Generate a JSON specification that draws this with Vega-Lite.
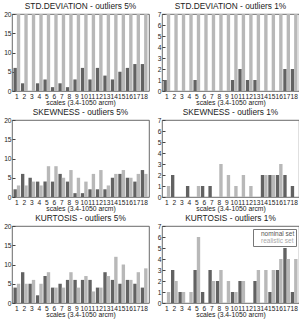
{
"$schema": "https://vega.github.io/schema/vega-lite/v6.json",
"padding": {"left": 3, "top": 1, "right": 0, "bottom": 0},
"background": "white",
"config": {
  "font": "Liberation Sans",
  "view": {"stroke": "#444444", "strokeWidth": 0.8},
  "title": {"fontSize": 8.3, "fontWeight": "normal", "color": "#222222", "offset": 1, "anchor": "middle"},
  "axis": {"labelFontSize": 6.6, "labelColor": "#222222", "titleFontSize": 6.8, "titleFontWeight": "normal", "titleColor": "#222222", "grid": false, "domain": false, "tickColor": "#444444"},
  "bar": {"clip": true}
},
"datasets": {"d": [
{"stat":"SD","pct":5,"scale":1,"set":"nominal set","value":6},{"stat":"SD","pct":5,"scale":2,"set":"nominal set","value":2},{"stat":"SD","pct":5,"scale":3,"set":"nominal set","value":0},{"stat":"SD","pct":5,"scale":4,"set":"nominal set","value":2},{"stat":"SD","pct":5,"scale":5,"set":"nominal set","value":3},{"stat":"SD","pct":5,"scale":6,"set":"nominal set","value":1},{"stat":"SD","pct":5,"scale":7,"set":"nominal set","value":2},{"stat":"SD","pct":5,"scale":8,"set":"nominal set","value":1},{"stat":"SD","pct":5,"scale":9,"set":"nominal set","value":3},{"stat":"SD","pct":5,"scale":10,"set":"nominal set","value":6},{"stat":"SD","pct":5,"scale":11,"set":"nominal set","value":3},{"stat":"SD","pct":5,"scale":12,"set":"nominal set","value":6},{"stat":"SD","pct":5,"scale":13,"set":"nominal set","value":4},{"stat":"SD","pct":5,"scale":14,"set":"nominal set","value":3},{"stat":"SD","pct":5,"scale":15,"set":"nominal set","value":5},{"stat":"SD","pct":5,"scale":16,"set":"nominal set","value":6},{"stat":"SD","pct":5,"scale":17,"set":"nominal set","value":7},{"stat":"SD","pct":5,"scale":18,"set":"nominal set","value":7},
{"stat":"SD","pct":5,"scale":1,"set":"realistic set","value":25},{"stat":"SD","pct":5,"scale":2,"set":"realistic set","value":25},{"stat":"SD","pct":5,"scale":3,"set":"realistic set","value":25},{"stat":"SD","pct":5,"scale":4,"set":"realistic set","value":25},{"stat":"SD","pct":5,"scale":5,"set":"realistic set","value":25},{"stat":"SD","pct":5,"scale":6,"set":"realistic set","value":25},{"stat":"SD","pct":5,"scale":7,"set":"realistic set","value":25},{"stat":"SD","pct":5,"scale":8,"set":"realistic set","value":25},{"stat":"SD","pct":5,"scale":9,"set":"realistic set","value":25},{"stat":"SD","pct":5,"scale":10,"set":"realistic set","value":25},{"stat":"SD","pct":5,"scale":11,"set":"realistic set","value":25},{"stat":"SD","pct":5,"scale":12,"set":"realistic set","value":25},{"stat":"SD","pct":5,"scale":13,"set":"realistic set","value":25},{"stat":"SD","pct":5,"scale":14,"set":"realistic set","value":25},{"stat":"SD","pct":5,"scale":15,"set":"realistic set","value":25},{"stat":"SD","pct":5,"scale":16,"set":"realistic set","value":25},{"stat":"SD","pct":5,"scale":17,"set":"realistic set","value":25},{"stat":"SD","pct":5,"scale":18,"set":"realistic set","value":25},
{"stat":"SD","pct":1,"scale":1,"set":"nominal set","value":1},{"stat":"SD","pct":1,"scale":2,"set":"nominal set","value":0},{"stat":"SD","pct":1,"scale":3,"set":"nominal set","value":0},{"stat":"SD","pct":1,"scale":4,"set":"nominal set","value":0},{"stat":"SD","pct":1,"scale":5,"set":"nominal set","value":1},{"stat":"SD","pct":1,"scale":6,"set":"nominal set","value":0},{"stat":"SD","pct":1,"scale":7,"set":"nominal set","value":0},{"stat":"SD","pct":1,"scale":8,"set":"nominal set","value":0},{"stat":"SD","pct":1,"scale":9,"set":"nominal set","value":0},{"stat":"SD","pct":1,"scale":10,"set":"nominal set","value":1},{"stat":"SD","pct":1,"scale":11,"set":"nominal set","value":2},{"stat":"SD","pct":1,"scale":12,"set":"nominal set","value":1},{"stat":"SD","pct":1,"scale":13,"set":"nominal set","value":1},{"stat":"SD","pct":1,"scale":14,"set":"nominal set","value":0},{"stat":"SD","pct":1,"scale":15,"set":"nominal set","value":0},{"stat":"SD","pct":1,"scale":16,"set":"nominal set","value":0},{"stat":"SD","pct":1,"scale":17,"set":"nominal set","value":2},{"stat":"SD","pct":1,"scale":18,"set":"nominal set","value":2},
{"stat":"SD","pct":1,"scale":1,"set":"realistic set","value":9},{"stat":"SD","pct":1,"scale":2,"set":"realistic set","value":9},{"stat":"SD","pct":1,"scale":3,"set":"realistic set","value":9},{"stat":"SD","pct":1,"scale":4,"set":"realistic set","value":9},{"stat":"SD","pct":1,"scale":5,"set":"realistic set","value":9},{"stat":"SD","pct":1,"scale":6,"set":"realistic set","value":9},{"stat":"SD","pct":1,"scale":7,"set":"realistic set","value":9},{"stat":"SD","pct":1,"scale":8,"set":"realistic set","value":9},{"stat":"SD","pct":1,"scale":9,"set":"realistic set","value":9},{"stat":"SD","pct":1,"scale":10,"set":"realistic set","value":9},{"stat":"SD","pct":1,"scale":11,"set":"realistic set","value":9},{"stat":"SD","pct":1,"scale":12,"set":"realistic set","value":9},{"stat":"SD","pct":1,"scale":13,"set":"realistic set","value":9},{"stat":"SD","pct":1,"scale":14,"set":"realistic set","value":9},{"stat":"SD","pct":1,"scale":15,"set":"realistic set","value":9},{"stat":"SD","pct":1,"scale":16,"set":"realistic set","value":9},{"stat":"SD","pct":1,"scale":17,"set":"realistic set","value":9},{"stat":"SD","pct":1,"scale":18,"set":"realistic set","value":9},
{"stat":"SK","pct":5,"scale":1,"set":"nominal set","value":2},{"stat":"SK","pct":5,"scale":2,"set":"nominal set","value":6},{"stat":"SK","pct":5,"scale":3,"set":"nominal set","value":5},{"stat":"SK","pct":5,"scale":4,"set":"nominal set","value":4},{"stat":"SK","pct":5,"scale":5,"set":"nominal set","value":4},{"stat":"SK","pct":5,"scale":6,"set":"nominal set","value":4},{"stat":"SK","pct":5,"scale":7,"set":"nominal set","value":6},{"stat":"SK","pct":5,"scale":8,"set":"nominal set","value":4},{"stat":"SK","pct":5,"scale":9,"set":"nominal set","value":1},{"stat":"SK","pct":5,"scale":10,"set":"nominal set","value":1},{"stat":"SK","pct":5,"scale":11,"set":"nominal set","value":2},{"stat":"SK","pct":5,"scale":12,"set":"nominal set","value":2},{"stat":"SK","pct":5,"scale":13,"set":"nominal set","value":2},{"stat":"SK","pct":5,"scale":14,"set":"nominal set","value":5},{"stat":"SK","pct":5,"scale":15,"set":"nominal set","value":6},{"stat":"SK","pct":5,"scale":16,"set":"nominal set","value":5},{"stat":"SK","pct":5,"scale":17,"set":"nominal set","value":4},{"stat":"SK","pct":5,"scale":18,"set":"nominal set","value":7},
{"stat":"SK","pct":5,"scale":1,"set":"realistic set","value":3},{"stat":"SK","pct":5,"scale":2,"set":"realistic set","value":3},{"stat":"SK","pct":5,"scale":3,"set":"realistic set","value":4},{"stat":"SK","pct":5,"scale":4,"set":"realistic set","value":3},{"stat":"SK","pct":5,"scale":5,"set":"realistic set","value":8},{"stat":"SK","pct":5,"scale":6,"set":"realistic set","value":8},{"stat":"SK","pct":5,"scale":7,"set":"realistic set","value":5},{"stat":"SK","pct":5,"scale":8,"set":"realistic set","value":7},{"stat":"SK","pct":5,"scale":9,"set":"realistic set","value":5},{"stat":"SK","pct":5,"scale":10,"set":"realistic set","value":4},{"stat":"SK","pct":5,"scale":11,"set":"realistic set","value":6},{"stat":"SK","pct":5,"scale":12,"set":"realistic set","value":7},{"stat":"SK","pct":5,"scale":13,"set":"realistic set","value":3},{"stat":"SK","pct":5,"scale":14,"set":"realistic set","value":6},{"stat":"SK","pct":5,"scale":15,"set":"realistic set","value":7},{"stat":"SK","pct":5,"scale":16,"set":"realistic set","value":5},{"stat":"SK","pct":5,"scale":17,"set":"realistic set","value":6},{"stat":"SK","pct":5,"scale":18,"set":"realistic set","value":6},
{"stat":"SK","pct":1,"scale":1,"set":"nominal set","value":0},{"stat":"SK","pct":1,"scale":2,"set":"nominal set","value":2},{"stat":"SK","pct":1,"scale":3,"set":"nominal set","value":0},{"stat":"SK","pct":1,"scale":4,"set":"nominal set","value":1},{"stat":"SK","pct":1,"scale":5,"set":"nominal set","value":0},{"stat":"SK","pct":1,"scale":6,"set":"nominal set","value":1},{"stat":"SK","pct":1,"scale":7,"set":"nominal set","value":1},{"stat":"SK","pct":1,"scale":8,"set":"nominal set","value":0},{"stat":"SK","pct":1,"scale":9,"set":"nominal set","value":0},{"stat":"SK","pct":1,"scale":10,"set":"nominal set","value":0},{"stat":"SK","pct":1,"scale":11,"set":"nominal set","value":0},{"stat":"SK","pct":1,"scale":12,"set":"nominal set","value":0},{"stat":"SK","pct":1,"scale":13,"set":"nominal set","value":0},{"stat":"SK","pct":1,"scale":14,"set":"nominal set","value":2},{"stat":"SK","pct":1,"scale":15,"set":"nominal set","value":2},{"stat":"SK","pct":1,"scale":16,"set":"nominal set","value":2},{"stat":"SK","pct":1,"scale":17,"set":"nominal set","value":2},{"stat":"SK","pct":1,"scale":18,"set":"nominal set","value":1},
{"stat":"SK","pct":1,"scale":1,"set":"realistic set","value":1},{"stat":"SK","pct":1,"scale":2,"set":"realistic set","value":0},{"stat":"SK","pct":1,"scale":3,"set":"realistic set","value":0},{"stat":"SK","pct":1,"scale":4,"set":"realistic set","value":0},{"stat":"SK","pct":1,"scale":5,"set":"realistic set","value":1},{"stat":"SK","pct":1,"scale":6,"set":"realistic set","value":0},{"stat":"SK","pct":1,"scale":7,"set":"realistic set","value":0},{"stat":"SK","pct":1,"scale":8,"set":"realistic set","value":3},{"stat":"SK","pct":1,"scale":9,"set":"realistic set","value":2},{"stat":"SK","pct":1,"scale":10,"set":"realistic set","value":1},{"stat":"SK","pct":1,"scale":11,"set":"realistic set","value":2},{"stat":"SK","pct":1,"scale":12,"set":"realistic set","value":1},{"stat":"SK","pct":1,"scale":13,"set":"realistic set","value":0},{"stat":"SK","pct":1,"scale":14,"set":"realistic set","value":2},{"stat":"SK","pct":1,"scale":15,"set":"realistic set","value":2},{"stat":"SK","pct":1,"scale":16,"set":"realistic set","value":3},{"stat":"SK","pct":1,"scale":17,"set":"realistic set","value":0},{"stat":"SK","pct":1,"scale":18,"set":"realistic set","value":0},
{"stat":"KU","pct":5,"scale":1,"set":"nominal set","value":4},{"stat":"KU","pct":5,"scale":2,"set":"nominal set","value":8},{"stat":"KU","pct":5,"scale":3,"set":"nominal set","value":5},{"stat":"KU","pct":5,"scale":4,"set":"nominal set","value":2},{"stat":"KU","pct":5,"scale":5,"set":"nominal set","value":7},{"stat":"KU","pct":5,"scale":6,"set":"nominal set","value":4},{"stat":"KU","pct":5,"scale":7,"set":"nominal set","value":5},{"stat":"KU","pct":5,"scale":8,"set":"nominal set","value":6},{"stat":"KU","pct":5,"scale":9,"set":"nominal set","value":6},{"stat":"KU","pct":5,"scale":10,"set":"nominal set","value":6},{"stat":"KU","pct":5,"scale":11,"set":"nominal set","value":6},{"stat":"KU","pct":5,"scale":12,"set":"nominal set","value":4},{"stat":"KU","pct":5,"scale":13,"set":"nominal set","value":8},{"stat":"KU","pct":5,"scale":14,"set":"nominal set","value":6},{"stat":"KU","pct":5,"scale":15,"set":"nominal set","value":5},{"stat":"KU","pct":5,"scale":16,"set":"nominal set","value":6},{"stat":"KU","pct":5,"scale":17,"set":"nominal set","value":5},{"stat":"KU","pct":5,"scale":18,"set":"nominal set","value":4},
{"stat":"KU","pct":5,"scale":1,"set":"realistic set","value":5},{"stat":"KU","pct":5,"scale":2,"set":"realistic set","value":5},{"stat":"KU","pct":5,"scale":3,"set":"realistic set","value":6},{"stat":"KU","pct":5,"scale":4,"set":"realistic set","value":5},{"stat":"KU","pct":5,"scale":5,"set":"realistic set","value":8},{"stat":"KU","pct":5,"scale":6,"set":"realistic set","value":4},{"stat":"KU","pct":5,"scale":7,"set":"realistic set","value":4},{"stat":"KU","pct":5,"scale":8,"set":"realistic set","value":8},{"stat":"KU","pct":5,"scale":9,"set":"realistic set","value":4},{"stat":"KU","pct":5,"scale":10,"set":"realistic set","value":7},{"stat":"KU","pct":5,"scale":11,"set":"realistic set","value":3},{"stat":"KU","pct":5,"scale":12,"set":"realistic set","value":4},{"stat":"KU","pct":5,"scale":13,"set":"realistic set","value":7},{"stat":"KU","pct":5,"scale":14,"set":"realistic set","value":12},{"stat":"KU","pct":5,"scale":15,"set":"realistic set","value":10},{"stat":"KU","pct":5,"scale":16,"set":"realistic set","value":6},{"stat":"KU","pct":5,"scale":17,"set":"realistic set","value":8},{"stat":"KU","pct":5,"scale":18,"set":"realistic set","value":9},
{"stat":"KU","pct":1,"scale":1,"set":"nominal set","value":0},{"stat":"KU","pct":1,"scale":2,"set":"nominal set","value":3},{"stat":"KU","pct":1,"scale":3,"set":"nominal set","value":1},{"stat":"KU","pct":1,"scale":4,"set":"nominal set","value":0},{"stat":"KU","pct":1,"scale":5,"set":"nominal set","value":3},{"stat":"KU","pct":1,"scale":6,"set":"nominal set","value":1},{"stat":"KU","pct":1,"scale":7,"set":"nominal set","value":3},{"stat":"KU","pct":1,"scale":8,"set":"nominal set","value":2},{"stat":"KU","pct":1,"scale":9,"set":"nominal set","value":0},{"stat":"KU","pct":1,"scale":10,"set":"nominal set","value":1},{"stat":"KU","pct":1,"scale":11,"set":"nominal set","value":2},{"stat":"KU","pct":1,"scale":12,"set":"nominal set","value":0},{"stat":"KU","pct":1,"scale":13,"set":"nominal set","value":2},{"stat":"KU","pct":1,"scale":14,"set":"nominal set","value":0},{"stat":"KU","pct":1,"scale":15,"set":"nominal set","value":1},{"stat":"KU","pct":1,"scale":16,"set":"nominal set","value":3},{"stat":"KU","pct":1,"scale":17,"set":"nominal set","value":5},{"stat":"KU","pct":1,"scale":18,"set":"nominal set","value":1},
{"stat":"KU","pct":1,"scale":1,"set":"realistic set","value":1},{"stat":"KU","pct":1,"scale":2,"set":"realistic set","value":2},{"stat":"KU","pct":1,"scale":3,"set":"realistic set","value":1},{"stat":"KU","pct":1,"scale":4,"set":"realistic set","value":1},{"stat":"KU","pct":1,"scale":5,"set":"realistic set","value":6},{"stat":"KU","pct":1,"scale":6,"set":"realistic set","value":0},{"stat":"KU","pct":1,"scale":7,"set":"realistic set","value":2},{"stat":"KU","pct":1,"scale":8,"set":"realistic set","value":3},{"stat":"KU","pct":1,"scale":9,"set":"realistic set","value":2},{"stat":"KU","pct":1,"scale":10,"set":"realistic set","value":1},{"stat":"KU","pct":1,"scale":11,"set":"realistic set","value":2},{"stat":"KU","pct":1,"scale":12,"set":"realistic set","value":0},{"stat":"KU","pct":1,"scale":13,"set":"realistic set","value":3},{"stat":"KU","pct":1,"scale":14,"set":"realistic set","value":3},{"stat":"KU","pct":1,"scale":15,"set":"realistic set","value":3},{"stat":"KU","pct":1,"scale":16,"set":"realistic set","value":4},{"stat":"KU","pct":1,"scale":17,"set":"realistic set","value":4},{"stat":"KU","pct":1,"scale":18,"set":"realistic set","value":4}
]},
"resolve": {"scale": {"color": "independent"}, "legend": {"color": "independent"}},
"spacing": 0,
"vconcat": [
 {"hconcat": [
  {"width": 137, "height": 77, "title": "STD.DEVIATION - outliers 5%", "data": {"name": "d"},
   "transform": [{"filter": "datum.stat == 'SD' && datum.pct == 5"}],
   "mark": {"type": "bar", "clip": true},
   "encoding": {
    "x": {"field": "scale", "type": "ordinal", "scale": {"paddingInner": 0.1, "paddingOuter": 0.2}, "axis": {"labelAngle": 0, "ticks": false, "labelPadding": 2, "labelOverlap": false, "labelBound": false, "title": "scales (3.4-1050 arcm)", "titlePadding": 0}},
    "xOffset": {"field": "set", "type": "nominal", "sort": ["nominal set", "realistic set"]},
    "y": {"field": "value", "type": "quantitative", "scale": {"domain": [0, 20], "nice": false}, "axis": {"values": [0, 5, 10, 15, 20], "tickSize": -3, "labelPadding": 4, "title": null}},
    "color": {"field": "set", "type": "nominal", "scale": {"domain": ["nominal set", "realistic set"], "range": ["#626262", "#b8b8b8"]}, "legend": null}
   }},
  {"width": 137, "height": 77, "title": "STD.DEVIATION - outliers 1%", "data": {"name": "d"},
   "transform": [{"filter": "datum.stat == 'SD' && datum.pct == 1"}],
   "mark": {"type": "bar", "clip": true},
   "encoding": {
    "x": {"field": "scale", "type": "ordinal", "scale": {"paddingInner": 0.1, "paddingOuter": 0.2}, "axis": {"labelAngle": 0, "ticks": false, "labelPadding": 2, "labelOverlap": false, "labelBound": false, "title": "scales (3.4-1050 arcm)", "titlePadding": 0}},
    "xOffset": {"field": "set", "type": "nominal", "sort": ["nominal set", "realistic set"]},
    "y": {"field": "value", "type": "quantitative", "scale": {"domain": [0, 7], "nice": false}, "axis": {"values": [0, 1, 2, 3, 4, 5, 6, 7], "tickSize": -3, "labelPadding": 4, "title": null}},
    "color": {"field": "set", "type": "nominal", "scale": {"domain": ["nominal set", "realistic set"], "range": ["#626262", "#b8b8b8"]}, "legend": null}
   }}
 ], "spacing": 6, "resolve": {"scale": {"color": "independent"}, "legend": {"color": "independent"}}},
 {"hconcat": [
  {"width": 137, "height": 77, "title": "SKEWNESS - outliers 5%", "data": {"name": "d"},
   "transform": [{"filter": "datum.stat == 'SK' && datum.pct == 5"}],
   "mark": {"type": "bar", "clip": true},
   "encoding": {
    "x": {"field": "scale", "type": "ordinal", "scale": {"paddingInner": 0.1, "paddingOuter": 0.2}, "axis": {"labelAngle": 0, "ticks": false, "labelPadding": 2, "labelOverlap": false, "labelBound": false, "title": "scales (3.4-1050 arcm)", "titlePadding": 0}},
    "xOffset": {"field": "set", "type": "nominal", "sort": ["nominal set", "realistic set"]},
    "y": {"field": "value", "type": "quantitative", "scale": {"domain": [0, 20], "nice": false}, "axis": {"values": [0, 5, 10, 15, 20], "tickSize": -3, "labelPadding": 4, "title": null}},
    "color": {"field": "set", "type": "nominal", "scale": {"domain": ["nominal set", "realistic set"], "range": ["#626262", "#b8b8b8"]}, "legend": null}
   }},
  {"width": 137, "height": 77, "title": "SKEWNESS - outliers 1%", "data": {"name": "d"},
   "transform": [{"filter": "datum.stat == 'SK' && datum.pct == 1"}],
   "mark": {"type": "bar", "clip": true},
   "encoding": {
    "x": {"field": "scale", "type": "ordinal", "scale": {"paddingInner": 0.1, "paddingOuter": 0.2}, "axis": {"labelAngle": 0, "ticks": false, "labelPadding": 2, "labelOverlap": false, "labelBound": false, "title": "scales (3.4-1050 arcm)", "titlePadding": 0}},
    "xOffset": {"field": "set", "type": "nominal", "sort": ["nominal set", "realistic set"]},
    "y": {"field": "value", "type": "quantitative", "scale": {"domain": [0, 7], "nice": false}, "axis": {"values": [0, 1, 2, 3, 4, 5, 6, 7], "tickSize": -3, "labelPadding": 4, "title": null}},
    "color": {"field": "set", "type": "nominal", "scale": {"domain": ["nominal set", "realistic set"], "range": ["#626262", "#b8b8b8"]}, "legend": null}
   }}
 ], "spacing": 6, "resolve": {"scale": {"color": "independent"}, "legend": {"color": "independent"}}},
 {"hconcat": [
  {"width": 137, "height": 77, "title": "KURTOSIS - outliers 5%", "data": {"name": "d"},
   "transform": [{"filter": "datum.stat == 'KU' && datum.pct == 5"}],
   "mark": {"type": "bar", "clip": true},
   "encoding": {
    "x": {"field": "scale", "type": "ordinal", "scale": {"paddingInner": 0.1, "paddingOuter": 0.2}, "axis": {"labelAngle": 0, "ticks": false, "labelPadding": 2, "labelOverlap": false, "labelBound": false, "title": "scales (3.4-1050 arcm)", "titlePadding": 0}},
    "xOffset": {"field": "set", "type": "nominal", "sort": ["nominal set", "realistic set"]},
    "y": {"field": "value", "type": "quantitative", "scale": {"domain": [0, 20], "nice": false}, "axis": {"values": [0, 5, 10, 15, 20], "tickSize": -3, "labelPadding": 4, "title": null}},
    "color": {"field": "set", "type": "nominal", "scale": {"domain": ["nominal set", "realistic set"], "range": ["#626262", "#b8b8b8"]}, "legend": null}
   }},
  {"width": 137, "height": 77, "title": "KURTOSIS - outliers 1%", "data": {"name": "d"},
   "transform": [{"filter": "datum.stat == 'KU' && datum.pct == 1"}],
   "mark": {"type": "bar", "clip": true},
   "encoding": {
    "x": {"field": "scale", "type": "ordinal", "scale": {"paddingInner": 0.1, "paddingOuter": 0.2}, "axis": {"labelAngle": 0, "ticks": false, "labelPadding": 2, "labelOverlap": false, "labelBound": false, "title": "scales (3.4-1050 arcm)", "titlePadding": 0}},
    "xOffset": {"field": "set", "type": "nominal", "sort": ["nominal set", "realistic set"]},
    "y": {"field": "value", "type": "quantitative", "scale": {"domain": [0, 7], "nice": false}, "axis": {"values": [0, 1, 2, 3, 4, 5, 6, 7], "tickSize": -3, "labelPadding": 4, "title": null}},
    "color": {"field": "set", "type": "nominal", "scale": {"domain": ["nominal set", "realistic set"], "range": ["#626262", "#b8b8b8"]},
     "legend": {"orient": "top-right", "title": null, "offset": 3, "padding": 1.5, "strokeColor": "#777777", "fillColor": "white", "symbolSize": 0, "symbolOpacity": 0, "symbolStrokeWidth": 0, "symbolOffset": 0, "labelFontSize": 6.5, "labelOffset": 0, "rowPadding": -1, "labelColor": {"expr": "datum.value == 'nominal set' ? '#555555' : '#a8a8a8'"}}}
   }}
 ], "spacing": 6, "resolve": {"scale": {"color": "independent"}, "legend": {"color": "independent"}}}
]
}
